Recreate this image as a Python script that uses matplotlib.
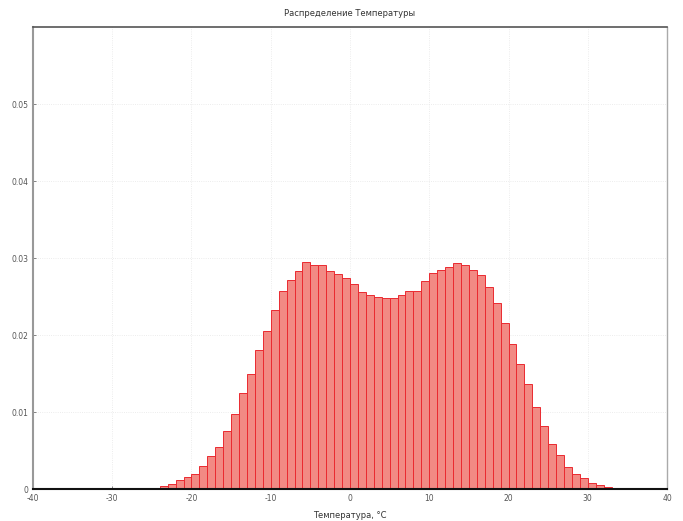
import matplotlib
matplotlib.use("Agg")
import matplotlib.pyplot as plt

# Histogram data (density, 1 °C bins)
bin_left = [-24, -23, -22, -21, -20, -19, -18, -17, -16, -15, -14, -13, -12, -11,
            -10, -9, -8, -7, -6, -5, -4, -3, -2, -1, 0, 1, 2, 3, 4, 5, 6, 7, 8, 9,
            10, 11, 12, 13, 14, 15, 16, 17, 18, 19, 20, 21, 22, 23, 24, 25, 26, 27,
            28, 29, 30, 31, 32]
density = [0.0004, 0.0006, 0.0012, 0.0015, 0.0019, 0.0030, 0.0043, 0.0055, 0.0076,
           0.0098, 0.0125, 0.0149, 0.0181, 0.0205, 0.0232, 0.0257, 0.0272, 0.0283,
           0.0295, 0.0291, 0.0291, 0.0283, 0.0279, 0.0274, 0.0266, 0.0256, 0.0252,
           0.0250, 0.0248, 0.0248, 0.0252, 0.0257, 0.0257, 0.0270, 0.0281, 0.0284,
           0.0289, 0.0294, 0.0291, 0.0284, 0.0278, 0.0263, 0.0241, 0.0216, 0.0189,
           0.0162, 0.0136, 0.0106, 0.0082, 0.0059, 0.0044, 0.0029, 0.0020, 0.0014,
           0.0008, 0.0005, 0.0003]
bin_width = 1.0

xticks = [-40, -30, -20, -10, 0, 10, 20, 30, 40]
yticks = [0, 0.01, 0.02, 0.03, 0.04, 0.05]
ytick_labels = ["0", "0.01", "0.02", "0.03", "0.04", "0.05"]

title = "Распределение Температуры"
xlabel = "Температура, °C"

fig = plt.figure(figsize=(6.83, 5.21), dpi=100)
ax = fig.add_axes([0.0483, 0.0614, 0.9283, 0.8866])

ax.bar(bin_left, density, width=bin_width, align="edge",
       facecolor="#f28a84", edgecolor="#ea2a30", linewidth=0.7, zorder=2)

ax.set_xlim(-40, 40)
ax.set_ylim(0, 0.06)
ax.set_xticks(xticks)
ax.set_xticklabels([str(v) for v in xticks])
ax.set_yticks(yticks)
ax.set_yticklabels(ytick_labels)
ax.tick_params(direction="in", labelsize=5.5, length=2, width=0.5, colors="#555555")

ax.grid(True, linestyle=":", color="#e6e6e6", linewidth=0.6, zorder=0)

for side, col, lw in [("left", "#999999", 1.5), ("top", "#555555", 1.2),
                      ("bottom", "#111111", 1.5), ("right", "#aaaaaa", 1.0)]:
    ax.spines[side].set_color(col)
    ax.spines[side].set_linewidth(lw)

ax.set_title(title, fontsize=6, color="#333333", pad=8)
ax.set_xlabel(xlabel, fontsize=6, color="#333333", labelpad=6)

fig.savefig("out.png", dpi=100)
